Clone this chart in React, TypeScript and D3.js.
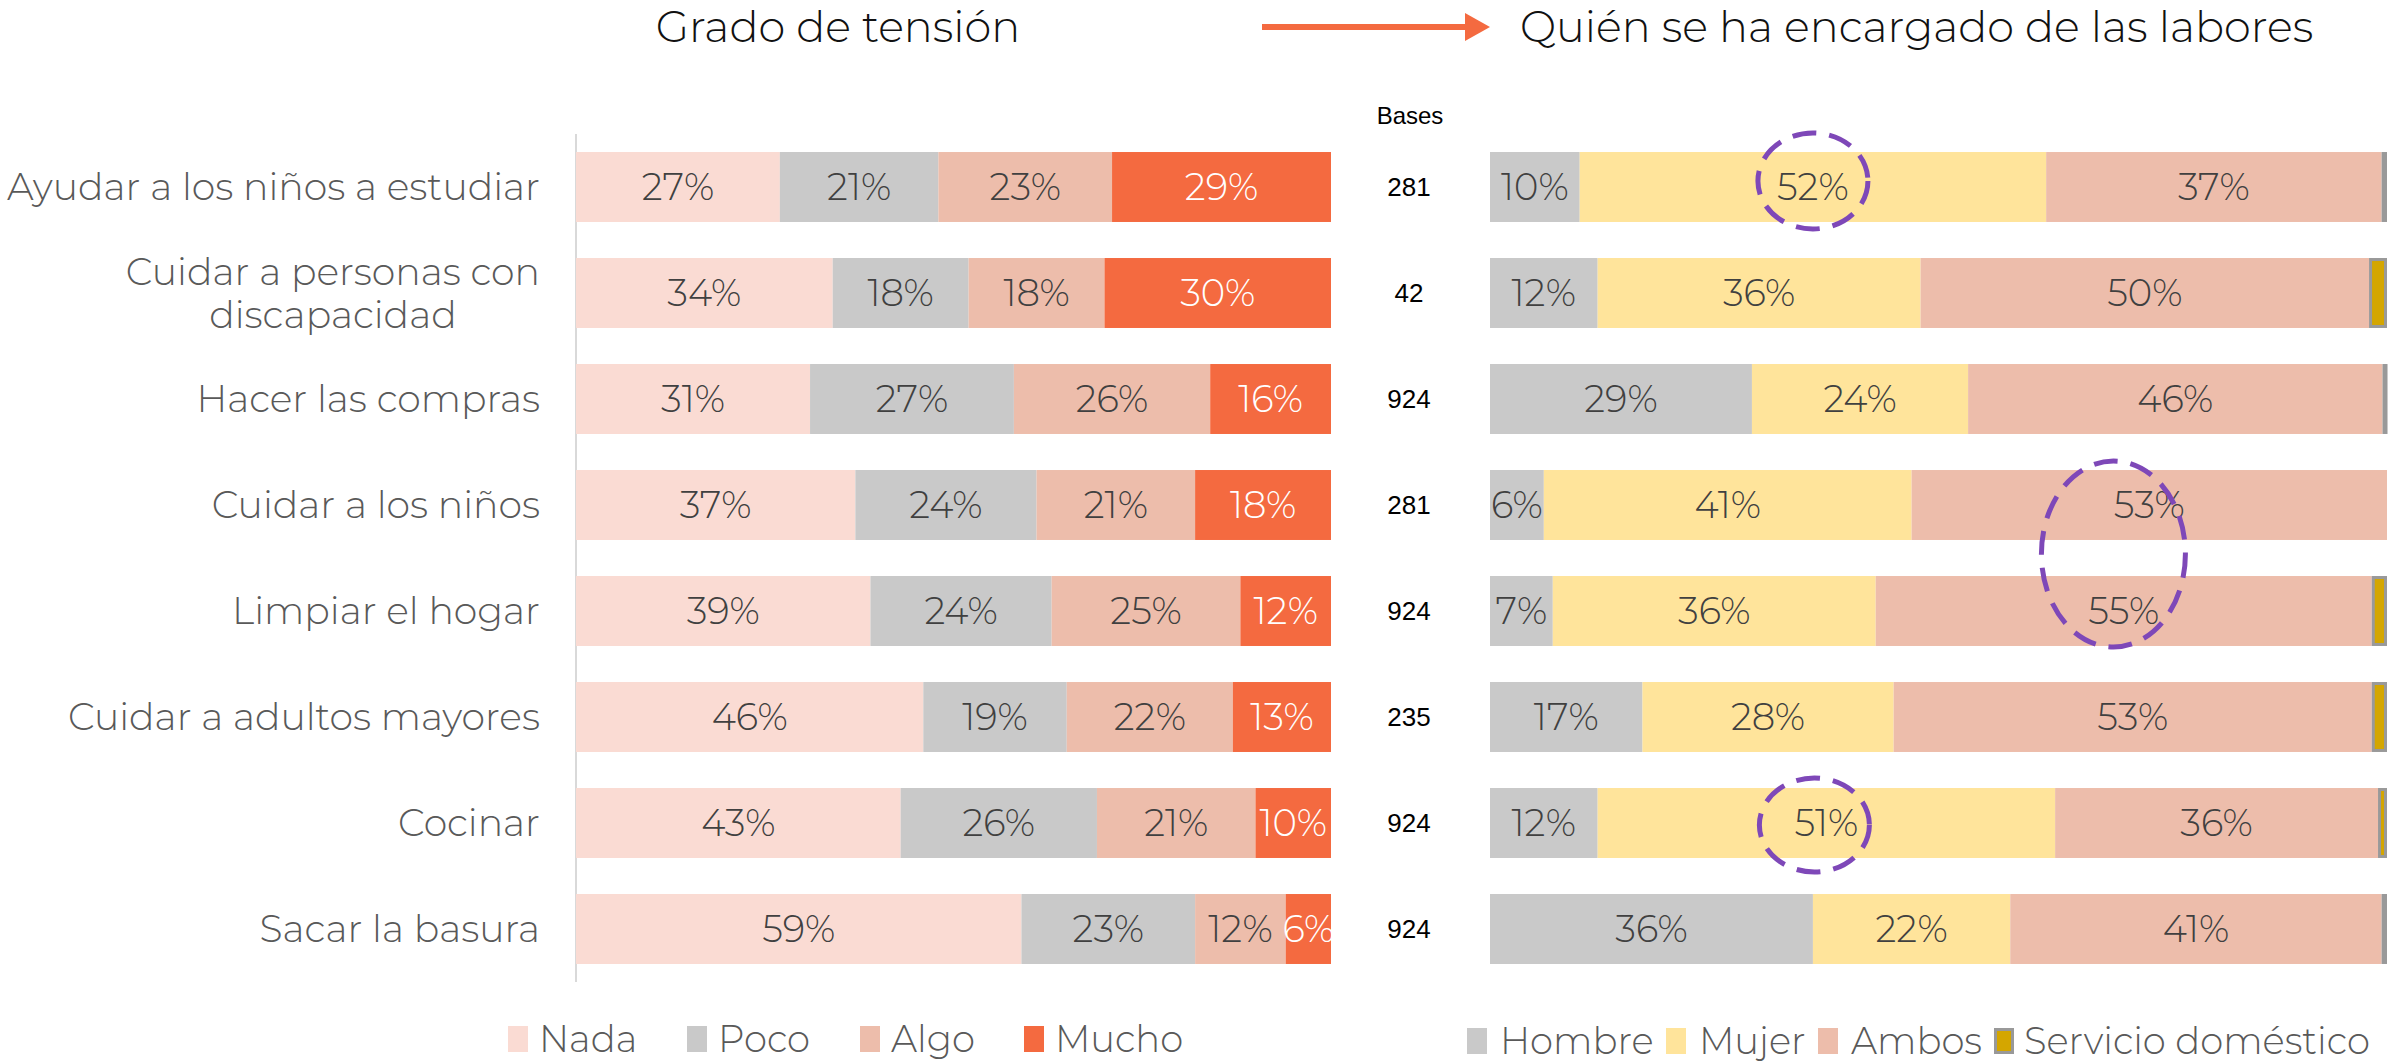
import React, { useEffect, useRef } from 'react'
import * as d3 from 'd3'

const W = 2407
const H = 1062

// rows, top to bottom
const categories = [
  'Ayudar a los niños a estudiar',
  'Cuidar a personas con discapacidad',
  'Hacer las compras',
  'Cuidar a los niños',
  'Limpiar el hogar',
  'Cuidar a adultos mayores',
  'Cocinar',
  'Sacar la basura'
]
const categoryLines = [
  ['Ayudar a los niños a estudiar'],
  ['Cuidar a personas con', 'discapacidad'],
  ['Hacer las compras'],
  ['Cuidar a los niños'],
  ['Limpiar el hogar'],
  ['Cuidar a adultos mayores'],
  ['Cocinar'],
  ['Sacar la basura']
]
const bases = [281, 42, 924, 281, 924, 235, 924, 924]

// Grado de tensión
const tensionKeys = ['Nada', 'Poco', 'Algo', 'Mucho']
const nada = [27, 34, 31, 37, 39, 46, 43, 59]
const poco = [21, 18, 27, 24, 24, 19, 26, 23]
const algo = [23, 18, 26, 21, 25, 22, 21, 12]
const mucho = [29, 30, 16, 18, 12, 13, 10, 6]

// Quién se ha encargado
const roleKeys = ['Hombre', 'Mujer', 'Ambos', 'Servicio doméstico']
const hombre = [10, 12, 29.2, 6, 7, 17, 12, 36]
const mujer = [52, 36, 24.1, 41, 36, 28, 51, 22]
const ambos = [37.4, 50, 46.2, 53, 55.3, 53.3, 36, 41.4]
const servicio = [0.6, 2, 0.5, 0, 1.7, 1.7, 1, 0.6]

const tensionColors = ['#FADBD3', '#C9C9C9', '#EDBDAB', '#F46A40']
const roleColors = ['#C9C9C9', '#FFE49B', '#EDBDAB', '#D4A600']

const FONT = "Montserrat, 'Open Sans', sans-serif"
const NARROW = "'Liberation Sans Narrow', 'Liberation Sans', sans-serif"

const App = () => {
  const ref = useRef<SVGSVGElement>(null)

  useEffect(() => {
    const svg = d3.select(ref.current)
    svg.selectAll('*').remove()

    const y = d3.scaleBand().domain(categories).range([134, 982]).paddingInner(0.34).paddingOuter(0.17)
    const xL = d3.scaleLinear().domain([0, 100]).range([576, 1331])
    const xR = d3.scaleLinear().domain([0, 100]).range([1490, 2387])
    const colL = d3.scaleOrdinal<string, string>().domain(tensionKeys).range(tensionColors)
    const colR = d3.scaleOrdinal<string, string>().domain(roleKeys).range(roleColors)

    const tensionRows = categories.map((c, i) => ({ cat: c, Nada: nada[i], Poco: poco[i], Algo: algo[i], Mucho: mucho[i] }))
    const roleRows = categories.map((c, i) => ({ cat: c, Hombre: hombre[i], Mujer: mujer[i], Ambos: ambos[i], 'Servicio doméstico': servicio[i] }))
    const stackL = d3.stack<any>().keys(tensionKeys)(tensionRows)
    const stackR = d3.stack<any>().keys(roleKeys)(roleRows)

    // titles
    svg.append('text').attr('x', 838).attr('y', 42).attr('text-anchor', 'middle')
      .style('font-family', FONT).style('font-weight', 300).style('font-size', '43px').attr('fill', '#111')
      .text('Grado de tensión')
    svg.append('line').attr('x1', 1262).attr('x2', 1468).attr('y1', 27).attr('y2', 27)
      .attr('stroke', '#F46A40').attr('stroke-width', 6)
    svg.append('path').attr('d', 'M1465,13 L1490,27 L1465,41 Z').attr('fill', '#F46A40')
    svg.append('text').attr('x', 1520).attr('y', 42)
      .style('font-family', FONT).style('font-weight', 300).style('font-size', '43px').attr('fill', '#111')
      .text('Quién se ha encargado de las labores')

    // left axis line
    svg.append('line').attr('x1', 576).attr('x2', 576).attr('y1', 134).attr('y2', 982)
      .attr('stroke', '#D9D9D9').attr('stroke-width', 2)

    // category labels
    const catG = svg.append('g').style('font-family', FONT).style('font-weight', 300)
      .style('font-size', '37.8px').attr('fill', '#595959')
    categories.forEach((c, i) => {
      const lines = categoryLines[i]
      const cy = (y(c) as number) + y.bandwidth() / 2
      if (lines.length === 1) {
        catG.append('text').attr('x', 540).attr('y', cy).attr('dy', '0.35em')
          .attr('text-anchor', 'end').text(lines[0])
      } else {
        const t0 = catG.append('text').attr('x', 540).attr('y', cy - 21).attr('dy', '0.35em')
          .attr('text-anchor', 'end').text(lines[0])
        const w0 = (t0.node() as SVGTextElement).getComputedTextLength()
        const mid = 540 - w0 / 2
        t0.attr('x', mid).attr('text-anchor', 'middle')
        catG.append('text').attr('x', mid).attr('y', cy + 22).attr('dy', '0.35em')
          .attr('text-anchor', 'middle').text(lines[1])
      }
    })

    // left stacked bars
    const gL = svg.append('g')
    stackL.forEach(layer => {
      const k = layer.key
      gL.append('g').selectAll('rect').data(layer).enter().append('rect')
        .attr('x', d => xL(d[0])).attr('width', d => xL(d[1]) - xL(d[0]))
        .attr('y', d => y(d.data.cat) as number).attr('height', y.bandwidth())
        .attr('fill', colL(k))
      gL.append('g').selectAll('text').data(layer.filter(d => d[1] - d[0] > 0)).enter().append('text')
        .attr('x', d => xL((d[0] + d[1]) / 2)).attr('y', d => (y(d.data.cat) as number) + y.bandwidth() / 2)
        .attr('dy', '0.35em').attr('text-anchor', 'middle')
        .style('font-family', FONT).style('font-weight', 300).style('font-size', '37px')
        .attr('fill', k === 'Mucho' ? '#ffffff' : '#404040')
        .text(d => Math.round(d[1] - d[0]) + '%')
    })

    // bases
    svg.append('text').attr('x', 1410).attr('y', 116).attr('dy', '0.35em').attr('text-anchor', 'middle')
      .style('font-family', NARROW).style('font-size', '24px').attr('fill', '#000').text('Bases')
    svg.append('g').selectAll('text').data(bases).enter().append('text')
      .attr('x', 1409).attr('y', (d, i) => (y(categories[i]) as number) + y.bandwidth() / 2)
      .attr('dy', '0.35em').attr('text-anchor', 'middle')
      .style('font-family', NARROW).style('font-size', '26px').attr('fill', '#000')
      .text(d => d)

    // right stacked bars
    const gR = svg.append('g')
    stackR.forEach(layer => {
      const k = layer.key
      const isServ = k === 'Servicio doméstico'
      gR.append('g').selectAll('rect').data(layer.filter(d => d[1] - d[0] > 0)).enter().append('rect')
        .attr('x', d => xR(d[0]) + (isServ ? 1.5 : 0))
        .attr('width', d => Math.max(xR(d[1]) - xR(d[0]) - (isServ ? 3 : 0), isServ ? 2 : 0))
        .attr('y', d => (y(d.data.cat) as number) + (isServ ? 1.5 : 0))
        .attr('height', y.bandwidth() - (isServ ? 3 : 0))
        .attr('fill', colR(k))
        .attr('stroke', isServ ? '#999999' : 'none').attr('stroke-width', isServ ? 3 : 0)
      if (isServ) return
      gR.append('g').selectAll('text').data(layer.filter(d => d[1] - d[0] > 0)).enter().append('text')
        .attr('x', d => xR((d[0] + d[1]) / 2)).attr('y', d => (y(d.data.cat) as number) + y.bandwidth() / 2)
        .attr('dy', '0.35em').attr('text-anchor', 'middle')
        .style('font-family', FONT).style('font-weight', 300).style('font-size', '37px')
        .attr('fill', '#404040')
        .text(d => Math.round(d[1] - d[0]) + '%')
    })

    // dashed highlight ellipses
    const rowMid = (i: number) => (y(categories[i]) as number) + y.bandwidth() / 2
    const marks = [
      { cx: xR(hombre[0] + mujer[0] / 2), cy: rowMid(0) - 6, rx: 55, ry: 48 },
      { cx: xR(69.5), cy: (rowMid(3) + rowMid(4)) / 2 - 4, rx: 72, ry: 93 },
      { cx: xR(hombre[6] + mujer[6] / 2) - 12, cy: rowMid(6) + 2, rx: 55, ry: 47 }
    ]
    svg.append('g').selectAll('ellipse').data(marks).enter().append('ellipse')
      .attr('cx', d => d.cx).attr('cy', d => d.cy).attr('rx', d => d.rx).attr('ry', d => d.ry)
      .attr('fill', 'none').attr('stroke', '#7E48B8').attr('stroke-width', 5)
      .attr('stroke-dasharray', '24 13')

    // legends
    const legL = [508, 687, 860, 1024]
    const legR = [1467, 1666, 1818, 1994]
    const lg = svg.append('g').style('font-family', FONT).style('font-weight', 300)
      .style('font-size', '37px').attr('fill', '#595959')
    tensionKeys.forEach((k, i) => {
      lg.append('rect').attr('x', legL[i]).attr('y', 1026).attr('width', 20).attr('height', 26).attr('fill', colL(k))
      lg.append('text').attr('x', legL[i] + 31).attr('y', 1052).text(k)
    })
    roleKeys.forEach((k, i) => {
      const isServ = k === 'Servicio doméstico'
      lg.append('rect').attr('x', legR[i] + (isServ ? 1.5 : 0)).attr('y', 1028 + (isServ ? 1.5 : 0))
        .attr('width', isServ ? 17 : 20).attr('height', isServ ? 23 : 26).attr('fill', colR(k))
        .attr('stroke', isServ ? '#999999' : 'none').attr('stroke-width', isServ ? 3 : 0)
      lg.append('text').attr('x', legR[i] + (isServ ? 30 : 33)).attr('y', 1054).text(k)
    })
  }, [])

  return (
    <svg ref={ref} width={W} height={H}
      style={{ position: 'absolute', left: 0, top: 0, display: 'block', background: '#fff' }} />
  )
}

export default App
